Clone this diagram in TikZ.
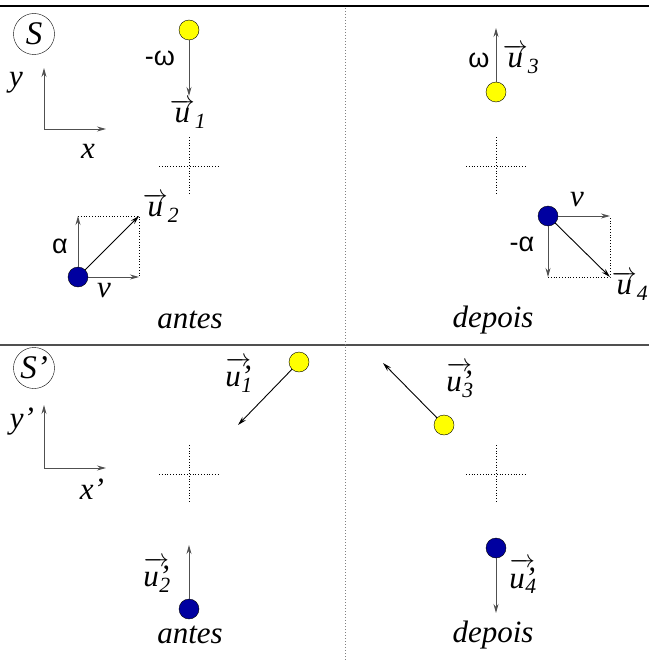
\documentclass[tikz,border=0pt]{standalone}
\usepackage{amsmath}
\usepackage{fontspec}
\setmainfont{Liberation Serif}
\newfontfamily\greekfont{Liberation Sans}
\usetikzlibrary{positioning, arrows.meta}
\definecolor{ballyellow}{RGB}{255, 255, 0}
\definecolor{ballblue}{RGB}{0, 0, 160}
\definecolor{vecgray}{RGB}{80, 80, 80}

\newcommand{\vecu}[1]{$\overrightarrow{\textit{u}}_{\textit{#1}}$}
\newcommand{\vecup}[1]{$\overrightarrow{\textit{u’}}\mkern-7mu_{\textit{#1}}$}
\newcommand{\gk}[1]{{\greekfont\upshape\fontsize{27}{27}\selectfont #1}}

\tikzset{
  ball/.style={circle, draw, inner sep=0pt, minimum size=20pt},
  yball/.style={ball, fill=ballyellow},
  bball/.style={ball, fill=ballblue},
  vecline/.style={draw=vecgray, line width=0.9pt, -{Stealth[length=9pt, width=5pt, inset=3pt]}},
  guide/.style={dotted, line width=0.8pt},
  frame/.style={circle, draw, inner sep=0pt, minimum size=41pt, font=\fontsize{33}{33}\selectfont\itshape},
}

\begin{document}
\begin{tikzpicture}[x=1pt, y=-1pt, font=\fontsize{31}{33}\selectfont\itshape]
  \useasboundingbox (0,0) rectangle (649,661);
  % separators
  \draw[line width=1.2pt] (0,6) -- (649,6);
  \draw[vecgray, line width=1.4pt] (0,345) -- (649,345);
  \draw[gray, dotted, line width=1pt] (345,8) -- (345,661);
  % dotted crosses
  \foreach \cx/\cy in {189/166, 496/166, 189/474, 496/474}
    \draw[guide] (\cx,\cy-29) -- (\cx,\cy+29) (\cx-30,\cy) -- (\cx+30,\cy);

  % frame S
  \node[frame] (fs) at (34,34) {S};
  \coordinate (ys) at (44,68);
  \coordinate (xs) at (106,129);
  \draw[vecline, {Stealth[length=9pt, width=5pt, inset=3pt]}-{Stealth[length=9pt, width=5pt, inset=3pt]}] (ys) |- (xs);
  \node at (16,83) {y};
  \node at (88,151) {x};

  % S, antes
  \node[yball] (p1) at (189,30) {};
  \coordinate (u1) at (189,96);
  \draw[vecline] (p1) -- (u1);
  \node at (160,58) {\gk{-ω}};
  \node at (188,114) {\vecu{1}};

  \node[bball] (p2) at (78,277) {};
  \coordinate (a2) at (78,216);
  \coordinate (v2) at (139,277);
  \coordinate (u2) at (139,216);
  \draw[guide] (a2) -- (u2) -- (v2);
  \draw[vecline] (p2) -- (a2);
  \draw[vecline] (p2) -- (v2);
  \draw[vecline, draw=black] (p2) -- (u2);
  \node at (60,246) {\gk{α}};
  \node at (104,291) {v};
  \node at (161,208) {\vecu{2}};
  \node at (190,320) {antes};

  % S, depois
  \node[yball] (p3) at (496,92) {};
  \coordinate (u3) at (496,28);
  \draw[vecline] (p3) -- (u3);
  \node at (479,60) {\gk{ω}};
  \node at (521,59) {\vecu{3}};

  \node[bball] (p4) at (548,216) {};
  \coordinate (a4) at (548,277);
  \coordinate (v4) at (610,216);
  \coordinate (u4) at (610,277);
  \draw[guide] (a4) -- (u4) -- (v4);
  \draw[vecline] (p4) -- (a4);
  \draw[vecline] (p4) -- (v4);
  \draw[vecline, draw=black] (p4) -- (u4);
  \node at (522,244) {\gk{-α}};
  \node at (577,200) {v};
  \node at (630,286) {\vecu{4}};
  \node at (493,320) {depois};

  % frame S'
  \node[frame] (fsp) at (34,368) {S’};
  \coordinate (ysp) at (44,405);
  \coordinate (xsp) at (106,468);
  \draw[vecline, {Stealth[length=9pt, width=5pt, inset=3pt]}-{Stealth[length=9pt, width=5pt, inset=3pt]}] (ysp) |- (xsp);
  \node at (22,422) {y’};
  \node at (92,489) {x’};

  % S', antes
  \node[yball] (q1) at (299,362) {};
  \coordinate (w1) at (238,425);
  \draw[vecline, draw=black] (q1) -- (w1);
  \node at (239,375) {\vecup{1}};

  \node[bball] (q2) at (189,609) {};
  \coordinate (w2) at (189,545);
  \draw[vecline] (q2) -- (w2);
  \node at (157,575) {\vecup{2}};
  \node at (190,635) {antes};

  % S', depois
  \node[yball] (q3) at (444,425) {};
  \coordinate (w3) at (383,363);
  \draw[vecline, draw=black] (q3) -- (w3);
  \node at (460,380) {\vecup{3}};

  \node[bball] (q4) at (496,548) {};
  \coordinate (w4) at (496,613);
  \draw[vecline] (q4) -- (w4);
  \node at (523,576) {\vecup{4}};
  \node at (493,635) {depois};
\end{tikzpicture}
\end{document}
